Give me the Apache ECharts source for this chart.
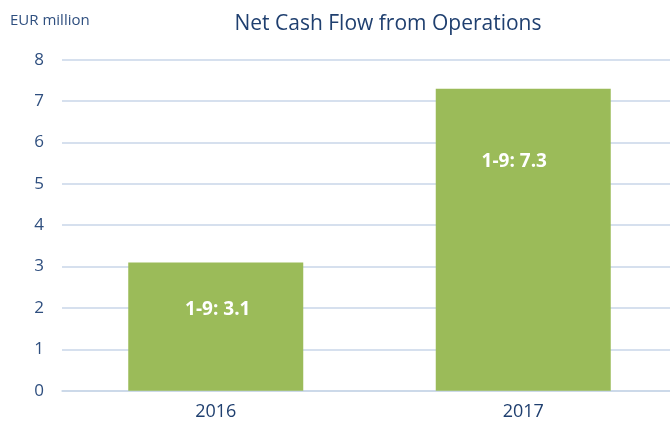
<!DOCTYPE html>
<html>
<head>
<meta charset="utf-8">
<script src="https://cdn.jsdelivr.net/npm/echarts@6/dist/echarts.min.js"></script>
<style>
html,body{margin:0;padding:0;background:#fff;}
#chart{width:670px;height:423px;}
</style>
</head>
<body>
<div id="chart"></div>
<script>
var years = ['2016', '2017'];
var cashFlow = [3.1, 7.3];
var barLabels = ['1-9: 3.1', '1-9: 7.3'];
// label placement inside each bar (as in the source slide)
var labelDist = [38, 63];
var labelShift = [2, -9];

var textBlue = '#2F4F7F';
var fontFam = '"Open Sans", "Liberation Sans", sans-serif';

var seriesData = [];
for (var i = 0; i < cashFlow.length; i++) {
    seriesData.push({
        value: cashFlow[i],
        label: {
            show: true,
            position: 'insideTop',
            distance: labelDist[i],
            offset: [labelShift[i], 0],
            formatter: barLabels[i]
        }
    });
}

var myChart = echarts.init(document.getElementById('chart'));
myChart.setOption({
    animation: false,
    title: {
        text: 'Net Cash Flow from Operations',
        left: 383,
        textAlign: 'center',
        top: 9,
        textStyle: {color: '#1F3F6F', fontSize: 21, fontWeight: 'normal', fontFamily: fontFam}
    },
    graphic: [{
        type: 'text',
        left: 10,
        top: 13,
        style: {text: 'EUR million', fill: textBlue, font: '15px ' + fontFam}
    }],
    grid: {
        left: 62,
        top: 59.7,
        width: 615,
        bottom: 32.3,
        outerBoundsMode: 'none'
    },
    xAxis: {
        type: 'category',
        data: years,
        axisLine: {lineStyle: {color: '#C9D6E8', width: 1.5}},
        axisTick: {show: false},
        axisLabel: {color: '#1F3F6F', fontSize: 18, margin: 12, fontFamily: fontFam}
    },
    yAxis: {
        type: 'value',
        min: 0,
        max: 8,
        interval: 1,
        axisLine: {show: false},
        axisTick: {show: false},
        axisLabel: {color: textBlue, fontSize: 17, margin: 18, fontFamily: fontFam},
        splitLine: {lineStyle: {color: '#C9D6E8', width: 1.5}}
    },
    series: [{
        type: 'bar',
        barWidth: 175,
        data: seriesData,
        itemStyle: {color: '#9BBB59'},
        label: {color: '#fff', fontSize: 19, fontWeight: 'bold', fontFamily: fontFam}
    }]
});
</script>
</body>
</html>
